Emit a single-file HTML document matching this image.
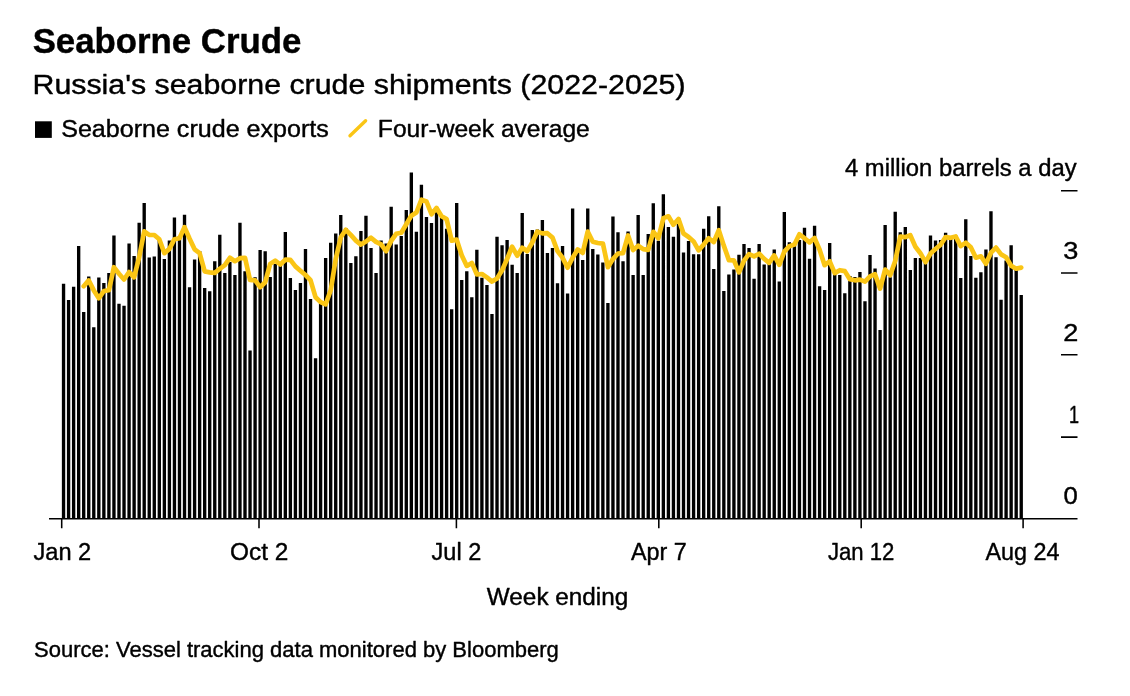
<!DOCTYPE html>
<html><head><meta charset="utf-8"><title>Seaborne Crude</title>
<style>
html,body{margin:0;padding:0;background:#fff;}
body{width:1130px;height:696px;overflow:hidden;position:relative;}
svg{position:absolute;left:0;top:0;display:block;}
svg text{font-family:"Liberation Sans",sans-serif;fill:#000;stroke:#000;stroke-width:0.4px;stroke-linejoin:round;}
</style></head><body>
<svg width="1130" height="696" viewBox="0 0 1130 696">
<rect x="35" y="121.3" width="16.8" height="16.6" fill="#000"/>
<path d="M350 135.8L365.6 120.7" stroke="#fac515" stroke-width="3.4" stroke-linecap="round" fill="none"/>
<path d="M61.87 518.7V283.8h3.35V518.7zM66.91 518.7V299.9h3.35V518.7zM71.95 518.7V286.8h3.35V518.7zM76.99 518.7V246.1h3.35V518.7zM82.03 518.7V312.1h3.35V518.7zM87.07 518.7V276.4h3.35V518.7zM92.11 518.7V327.2h3.35V518.7zM97.15 518.7V277.5h3.35V518.7zM102.19 518.7V282.9h3.35V518.7zM107.23 518.7V273.1h3.35V518.7zM112.27 518.7V235.4h3.35V518.7zM117.31 518.7V303.8h3.35V518.7zM122.35 518.7V305.8h3.35V518.7zM127.40 518.7V243.6h3.35V518.7zM132.44 518.7V256.1h3.35V518.7zM137.48 518.7V222.8h3.35V518.7zM142.52 518.7V203.1h3.35V518.7zM147.56 518.7V257.6h3.35V518.7zM152.60 518.7V256.5h3.35V518.7zM157.64 518.7V240.0h3.35V518.7zM162.68 518.7V258.9h3.35V518.7zM167.72 518.7V240.4h3.35V518.7zM172.76 518.7V217.4h3.35V518.7zM177.80 518.7V236.0h3.35V518.7zM182.84 518.7V214.7h3.35V518.7zM187.88 518.7V287.3h3.35V518.7zM192.92 518.7V259.4h3.35V518.7zM197.96 518.7V251.0h3.35V518.7zM203.00 518.7V287.9h3.35V518.7zM208.04 518.7V291.3h3.35V518.7zM213.08 518.7V261.3h3.35V518.7zM218.12 518.7V234.7h3.35V518.7zM223.16 518.7V273.1h3.35V518.7zM228.20 518.7V262.0h3.35V518.7zM233.24 518.7V275.0h3.35V518.7zM238.28 518.7V222.8h3.35V518.7zM243.32 518.7V271.2h3.35V518.7zM248.36 518.7V350.5h3.35V518.7zM253.41 518.7V277.3h3.35V518.7zM258.45 518.7V249.9h3.35V518.7zM263.49 518.7V251.2h3.35V518.7zM268.53 518.7V277.1h3.35V518.7zM273.57 518.7V264.0h3.35V518.7zM278.61 518.7V265.6h3.35V518.7zM283.65 518.7V232.0h3.35V518.7zM288.69 518.7V278.0h3.35V518.7zM293.73 518.7V290.0h3.35V518.7zM298.77 518.7V282.9h3.35V518.7zM303.81 518.7V249.0h3.35V518.7zM308.85 518.7V299.0h3.35V518.7zM313.89 518.7V358.2h3.35V518.7zM318.93 518.7V302.4h3.35V518.7zM323.97 518.7V257.9h3.35V518.7zM329.01 518.7V242.7h3.35V518.7zM334.05 518.7V233.6h3.35V518.7zM339.09 518.7V214.9h3.35V518.7zM344.13 518.7V228.0h3.35V518.7zM349.17 518.7V263.1h3.35V518.7zM354.21 518.7V256.3h3.35V518.7zM359.25 518.7V230.9h3.35V518.7zM364.29 518.7V215.8h3.35V518.7zM369.33 518.7V247.9h3.35V518.7zM374.37 518.7V273.0h3.35V518.7zM379.42 518.7V240.4h3.35V518.7zM384.46 518.7V243.4h3.35V518.7zM389.50 518.7V206.8h3.35V518.7zM394.54 518.7V244.5h3.35V518.7zM399.58 518.7V235.9h3.35V518.7zM404.62 518.7V209.9h3.35V518.7zM409.66 518.7V172.5h3.35V518.7zM414.70 518.7V231.8h3.35V518.7zM419.74 518.7V184.7h3.35V518.7zM424.78 518.7V217.1h3.35V518.7zM429.82 518.7V223.0h3.35V518.7zM434.86 518.7V207.0h3.35V518.7zM439.90 518.7V217.5h3.35V518.7zM444.94 518.7V228.7h3.35V518.7zM449.98 518.7V309.2h3.35V518.7zM455.02 518.7V203.1h3.35V518.7zM460.06 518.7V280.0h3.35V518.7zM465.10 518.7V271.2h3.35V518.7zM470.14 518.7V297.2h3.35V518.7zM475.18 518.7V249.7h3.35V518.7zM480.22 518.7V277.8h3.35V518.7zM485.26 518.7V285.0h3.35V518.7zM490.30 518.7V313.9h3.35V518.7zM495.34 518.7V236.8h3.35V518.7zM500.38 518.7V245.3h3.35V518.7zM505.43 518.7V239.9h3.35V518.7zM510.47 518.7V264.7h3.35V518.7zM515.51 518.7V273.0h3.35V518.7zM520.55 518.7V213.1h3.35V518.7zM525.59 518.7V253.9h3.35V518.7zM530.63 518.7V230.0h3.35V518.7zM535.67 518.7V229.5h3.35V518.7zM540.71 518.7V220.1h3.35V518.7zM545.75 518.7V253.0h3.35V518.7zM550.79 518.7V247.9h3.35V518.7zM555.83 518.7V283.2h3.35V518.7zM560.87 518.7V246.1h3.35V518.7zM565.91 518.7V293.6h3.35V518.7zM570.95 518.7V208.4h3.35V518.7zM575.99 518.7V249.3h3.35V518.7zM581.03 518.7V260.1h3.35V518.7zM586.07 518.7V208.4h3.35V518.7zM591.11 518.7V249.0h3.35V518.7zM596.15 518.7V254.4h3.35V518.7zM601.19 518.7V262.4h3.35V518.7zM606.23 518.7V302.9h3.35V518.7zM611.27 518.7V216.5h3.35V518.7zM616.31 518.7V232.3h3.35V518.7zM621.35 518.7V261.3h3.35V518.7zM626.39 518.7V231.4h3.35V518.7zM631.44 518.7V275.0h3.35V518.7zM636.48 518.7V214.9h3.35V518.7zM641.52 518.7V275.0h3.35V518.7zM646.56 518.7V234.1h3.35V518.7zM651.60 518.7V203.2h3.35V518.7zM656.64 518.7V240.8h3.35V518.7zM661.68 518.7V194.3h3.35V518.7zM666.72 518.7V226.9h3.35V518.7zM671.76 518.7V236.8h3.35V518.7zM676.80 518.7V218.0h3.35V518.7zM681.84 518.7V252.4h3.35V518.7zM686.88 518.7V240.9h3.35V518.7zM691.92 518.7V254.2h3.35V518.7zM696.96 518.7V254.2h3.35V518.7zM702.00 518.7V228.7h3.35V518.7zM707.04 518.7V216.2h3.35V518.7zM712.08 518.7V269.0h3.35V518.7zM717.12 518.7V206.3h3.35V518.7zM722.16 518.7V290.9h3.35V518.7zM727.20 518.7V274.4h3.35V518.7zM732.24 518.7V269.6h3.35V518.7zM737.28 518.7V254.8h3.35V518.7zM742.32 518.7V244.0h3.35V518.7zM747.36 518.7V248.1h3.35V518.7zM752.40 518.7V278.7h3.35V518.7zM757.45 518.7V244.0h3.35V518.7zM762.49 518.7V264.6h3.35V518.7zM767.53 518.7V263.7h3.35V518.7zM772.57 518.7V249.4h3.35V518.7zM777.61 518.7V281.4h3.35V518.7zM782.65 518.7V212.0h3.35V518.7zM787.69 518.7V242.2h3.35V518.7zM792.73 518.7V243.0h3.35V518.7zM797.77 518.7V240.0h3.35V518.7zM802.81 518.7V227.8h3.35V518.7zM807.85 518.7V258.8h3.35V518.7zM812.89 518.7V225.7h3.35V518.7zM817.93 518.7V286.3h3.35V518.7zM822.97 518.7V290.0h3.35V518.7zM828.01 518.7V243.1h3.35V518.7zM833.05 518.7V272.9h3.35V518.7zM838.09 518.7V275.0h3.35V518.7zM843.13 518.7V293.2h3.35V518.7zM848.17 518.7V276.0h3.35V518.7zM853.21 518.7V277.0h3.35V518.7zM858.25 518.7V272.0h3.35V518.7zM863.29 518.7V301.3h3.35V518.7zM868.33 518.7V255.0h3.35V518.7zM873.37 518.7V268.4h3.35V518.7zM878.41 518.7V329.9h3.35V518.7zM883.46 518.7V225.1h3.35V518.7zM888.50 518.7V277.3h3.35V518.7zM893.54 518.7V211.7h3.35V518.7zM898.58 518.7V232.3h3.35V518.7zM903.62 518.7V226.9h3.35V518.7zM908.66 518.7V270.1h3.35V518.7zM913.70 518.7V257.9h3.35V518.7zM918.74 518.7V257.9h3.35V518.7zM923.78 518.7V262.9h3.35V518.7zM928.82 518.7V235.4h3.35V518.7zM933.86 518.7V240.4h3.35V518.7zM938.90 518.7V240.0h3.35V518.7zM943.94 518.7V232.7h3.35V518.7zM948.98 518.7V238.0h3.35V518.7zM954.02 518.7V235.4h3.35V518.7zM959.06 518.7V278.1h3.35V518.7zM964.10 518.7V219.2h3.35V518.7zM969.14 518.7V255.9h3.35V518.7zM974.18 518.7V277.7h3.35V518.7zM979.22 518.7V272.3h3.35V518.7zM984.26 518.7V249.4h3.35V518.7zM989.30 518.7V211.3h3.35V518.7zM994.34 518.7V257.2h3.35V518.7zM999.38 518.7V299.8h3.35V518.7zM1004.42 518.7V260.5h3.35V518.7zM1009.47 518.7V245.3h3.35V518.7zM1014.51 518.7V269.3h3.35V518.7zM1019.55 518.7V295.1h3.35V518.7z" fill="#000"/>
<path d="M49 518.7H1077.5M61.7 518.7V528.3M259.0 518.7V528.3M456.4 518.7V528.3M658.8 518.7V528.3M861.2 518.7V528.3M1023.1 518.7V528.3M1061 190.8H1077.5M1061 272.9H1077.5M1061 354.8H1077.5M1061 437.1H1077.5" stroke="#000" stroke-width="1.55" fill="none"/>
<polyline points="83.7,286.2 88.7,280.4 93.8,290.4 98.8,298.3 103.9,291.0 108.9,290.2 113.9,267.2 119.0,273.8 124.0,279.5 129.1,272.1 134.1,277.3 139.2,257.1 144.2,231.4 149.2,234.9 154.3,235.0 159.3,239.3 164.4,253.2 169.4,248.9 174.4,239.2 179.5,238.2 184.5,227.1 189.6,238.8 194.6,249.3 199.6,253.1 204.7,271.4 209.7,272.4 214.8,272.9 219.8,268.8 224.8,265.1 229.9,257.8 234.9,261.2 240.0,258.2 245.0,257.8 250.0,279.9 255.1,280.4 260.1,287.2 265.2,282.2 270.2,263.9 275.2,260.6 280.3,264.5 285.3,259.7 290.4,259.9 295.4,266.4 300.4,270.7 305.5,275.0 310.5,280.2 315.6,297.3 320.6,302.1 325.6,304.4 330.7,290.3 335.7,259.1 340.8,237.3 345.8,229.8 350.8,234.9 355.9,240.6 360.9,244.6 366.0,241.5 371.0,237.7 376.0,241.9 381.1,244.3 386.1,251.2 391.2,240.9 396.2,233.8 401.3,232.7 406.3,224.3 411.3,215.7 416.4,212.5 421.4,199.7 426.5,201.5 431.5,214.2 436.5,207.9 441.6,216.2 446.6,219.1 451.7,240.6 456.7,239.6 461.7,255.2 466.8,265.9 471.8,262.9 476.9,274.5 481.9,274.0 486.9,277.4 492.0,281.6 497.0,278.4 502.1,270.2 507.1,259.0 512.1,246.7 517.2,255.7 522.2,247.7 527.3,251.2 532.3,242.5 537.3,231.6 542.4,233.4 547.4,233.2 552.5,237.6 557.5,251.1 562.5,257.6 567.6,267.7 572.6,257.8 577.7,249.4 582.7,252.9 587.7,231.6 592.8,241.7 597.8,243.0 602.9,243.6 607.9,267.2 612.9,259.1 618.0,253.5 623.0,253.2 628.1,235.4 633.1,250.0 638.2,245.7 643.2,249.1 648.2,249.8 653.3,231.8 658.3,238.3 663.4,218.1 668.4,216.3 673.4,224.7 678.5,219.0 683.5,233.5 688.6,237.0 693.6,241.4 698.6,250.4 703.7,244.5 708.7,238.3 713.8,242.0 718.8,230.1 723.8,245.6 728.9,260.1 733.9,260.3 739.0,272.4 744.0,260.7 749.0,254.1 754.1,256.4 759.1,253.7 764.2,258.9 769.2,262.8 774.2,255.4 779.3,264.8 784.3,251.6 789.4,246.2 794.4,244.6 799.4,234.3 804.5,238.2 809.5,242.4 814.6,238.1 819.6,249.7 824.6,265.2 829.7,261.3 834.7,273.1 839.8,270.2 844.8,271.1 849.8,279.3 854.9,280.3 859.9,279.6 865.0,281.6 870.0,276.3 875.0,274.2 880.1,288.6 885.1,269.6 890.2,275.2 895.2,261.0 900.3,236.6 905.3,237.1 910.3,235.2 915.4,246.8 920.4,253.2 925.5,262.2 930.5,253.5 935.5,249.1 940.6,244.7 945.6,237.1 950.7,237.8 955.7,236.5 960.7,246.1 965.8,242.7 970.8,247.2 975.9,257.7 980.9,256.3 985.9,263.8 991.0,252.7 996.0,247.6 1001.1,254.4 1006.1,257.2 1011.1,265.7 1016.2,268.7 1021.2,267.6" fill="none" stroke="#fac515" stroke-width="4.7" stroke-linejoin="round" stroke-linecap="round"/>
<text x="32.66" y="52.9" font-size="34.5" font-weight="bold" stroke-width="0.2" textLength="268.72" lengthAdjust="spacingAndGlyphs">Seaborne Crude</text>
<text x="32.52" y="93.6" font-size="27.0" stroke-width="0.3" textLength="653.08" lengthAdjust="spacingAndGlyphs">Russia's seaborne crude shipments (2022-2025)</text>
<text x="61.16" y="137.2" font-size="23.5" textLength="267.64" lengthAdjust="spacingAndGlyphs">Seaborne crude exports</text>
<text x="377.86" y="137.2" font-size="23.5" textLength="211.94" lengthAdjust="spacingAndGlyphs">Four-week average</text>
<text x="845.00" y="175.6" font-size="23.3" textLength="231.54" lengthAdjust="spacingAndGlyphs">4 million barrels a day</text>
<text x="1063.20" y="258.6" font-size="23.3" textLength="15.10" lengthAdjust="spacingAndGlyphs">3</text>
<text x="1063.20" y="340.6" font-size="23.3" textLength="15.06" lengthAdjust="spacingAndGlyphs">2</text>
<text x="1068.96" y="422.6" font-size="23.3" textLength="10.08" lengthAdjust="spacingAndGlyphs">1</text>
<text x="1063.50" y="504.0" font-size="23.3" textLength="14.30" lengthAdjust="spacingAndGlyphs">0</text>
<text x="33.46" y="559.6" font-size="23.3" textLength="57.80" lengthAdjust="spacingAndGlyphs">Jan 2</text>
<text x="230.04" y="559.6" font-size="23.3" textLength="58.30" lengthAdjust="spacingAndGlyphs">Oct 2</text>
<text x="431.58" y="559.6" font-size="23.3" textLength="49.72" lengthAdjust="spacingAndGlyphs">Jul 2</text>
<text x="631.00" y="559.6" font-size="23.3" textLength="55.80" lengthAdjust="spacingAndGlyphs">Apr 7</text>
<text x="827.96" y="559.6" font-size="23.3" textLength="66.46" lengthAdjust="spacingAndGlyphs">Jan 12</text>
<text x="985.50" y="559.6" font-size="23.3" textLength="74.00" lengthAdjust="spacingAndGlyphs">Aug 24</text>
<text x="486.88" y="604.9" font-size="23.3" textLength="141.34" lengthAdjust="spacingAndGlyphs">Week ending</text>
<text x="34.04" y="656.8" font-size="22.0" textLength="524.76" lengthAdjust="spacingAndGlyphs">Source: Vessel tracking data monitored by Bloomberg</text>
</svg>
</body></html>
